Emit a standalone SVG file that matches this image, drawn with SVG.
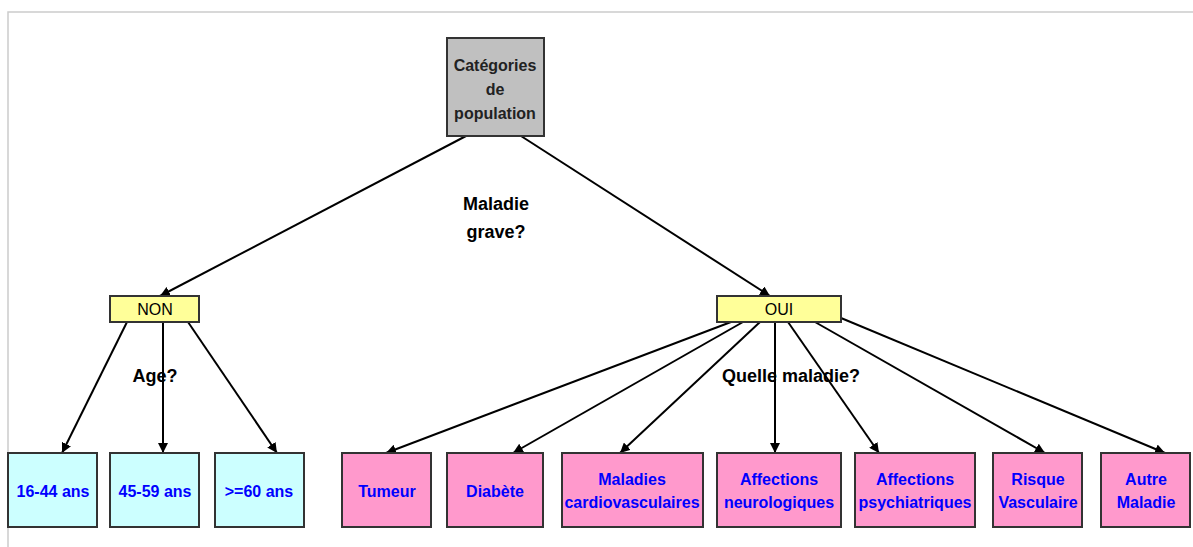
<svg xmlns="http://www.w3.org/2000/svg" width="1193" height="547" viewBox="0 0 1193 547">
<style>
.box{stroke:#333;stroke-width:2}
.gray{fill:#C0C0C0}
.yel{fill:#FFFF99}
.cyan{fill:#CCFFFF}
.pink{fill:#FF99CC}
.t{font-family:"Liberation Sans",Arial,sans-serif;text-anchor:middle}
.lbl{font-size:18px;font-weight:bold;fill:#000}
.top{font-size:16px;font-weight:bold;fill:#222}
.yn{font-size:16px;fill:#000}
.leaf{font-size:16px;font-weight:bold;fill:#0000FF}
.con{stroke:#000;stroke-width:2;fill:none;marker-end:url(#ah)}
</style>
<defs>
<marker id="ah" viewBox="0 0 10 10" refX="10" refY="5" markerWidth="5" markerHeight="5" orient="auto" markerUnits="strokeWidth">
<path d="M0,0 L10,5 L0,10 z" fill="#000"/>
</marker>
</defs>
<rect x="0" y="0" width="1193" height="547" fill="#fff"/>
<path d="M8,547 V12 H1193" stroke="#ccc" stroke-width="1.5" fill="none"/>
<g id="connectors">
<line class="con" x1="466" y1="136" x2="160" y2="296"/>
<line class="con" x1="521" y1="136" x2="770" y2="296"/>
<line class="con" x1="127" y1="322" x2="62" y2="453"/>
<line class="con" x1="163" y1="322" x2="163" y2="453"/>
<line class="con" x1="188" y1="322" x2="277" y2="453"/>
<line class="con" x1="731" y1="322" x2="386" y2="453"/>
<line class="con" x1="743" y1="322" x2="513" y2="453"/>
<line class="con" x1="760" y1="322" x2="620" y2="453"/>
<line class="con" x1="775" y1="322" x2="775" y2="453"/>
<line class="con" x1="788" y1="322" x2="879" y2="453"/>
<line class="con" x1="815" y1="322" x2="1045" y2="453"/>
<line class="con" x1="841" y1="318" x2="1165" y2="453"/>
</g>
<g id="labels">
<text class="t lbl" x="496" y="210">Maladie</text>
<text class="t lbl" x="496" y="238">grave?</text>
<text class="t lbl" x="155" y="382">Age?</text>
<text class="t lbl" x="791" y="382">Quelle maladie?</text>
</g>
<g id="categories">
<rect class="box gray" x="447" y="38" width="97" height="98"/>
<text class="t top" x="495" y="71">Catégories</text>
<text class="t top" x="495" y="95">de</text>
<text class="t top" x="495" y="119">population</text>
</g>
<g id="non">
<rect class="box yel" x="110" y="296" width="89" height="26"/>
<text class="t yn" x="155" y="315">NON</text>
</g>
<g id="oui">
<rect class="box yel" x="717" y="296" width="124" height="26"/>
<text class="t yn" x="779" y="315">OUI</text>
</g>
<g id="age1">
<rect class="box cyan" x="8" y="453" width="89" height="74"/>
<text class="t leaf" x="53" y="497">16-44 ans</text>
</g>
<g id="age2">
<rect class="box cyan" x="110" y="453" width="89" height="74"/>
<text class="t leaf" x="155" y="497">45-59 ans</text>
</g>
<g id="age3">
<rect class="box cyan" x="215" y="453" width="89" height="74"/>
<text class="t leaf" x="259" y="497">&gt;=60 ans</text>
</g>
<g id="tumeur">
<rect class="box pink" x="342" y="453" width="89" height="74"/>
<text class="t leaf" x="387" y="497">Tumeur</text>
</g>
<g id="diabete">
<rect class="box pink" x="447" y="453" width="96" height="74"/>
<text class="t leaf" x="495" y="497">Diabète</text>
</g>
<g id="cardio">
<rect class="box pink" x="562" y="453" width="141" height="74"/>
<text class="t leaf" x="632" y="485">Maladies</text>
<text class="t leaf" x="632" y="508">cardiovasculaires</text>
</g>
<g id="neuro">
<rect class="box pink" x="717" y="453" width="124" height="74"/>
<text class="t leaf" x="779" y="485">Affections</text>
<text class="t leaf" x="779" y="508">neurologiques</text>
</g>
<g id="psy">
<rect class="box pink" x="855" y="453" width="120" height="74"/>
<text class="t leaf" x="915" y="485">Affections</text>
<text class="t leaf" x="915" y="508">psychiatriques</text>
</g>
<g id="risque">
<rect class="box pink" x="993" y="453" width="89" height="74"/>
<text class="t leaf" x="1038" y="485">Risque</text>
<text class="t leaf" x="1038" y="508">Vasculaire</text>
</g>
<g id="autre">
<rect class="box pink" x="1101" y="453" width="89" height="74"/>
<text class="t leaf" x="1146" y="485">Autre</text>
<text class="t leaf" x="1146" y="508">Maladie</text>
</g>
</svg>
